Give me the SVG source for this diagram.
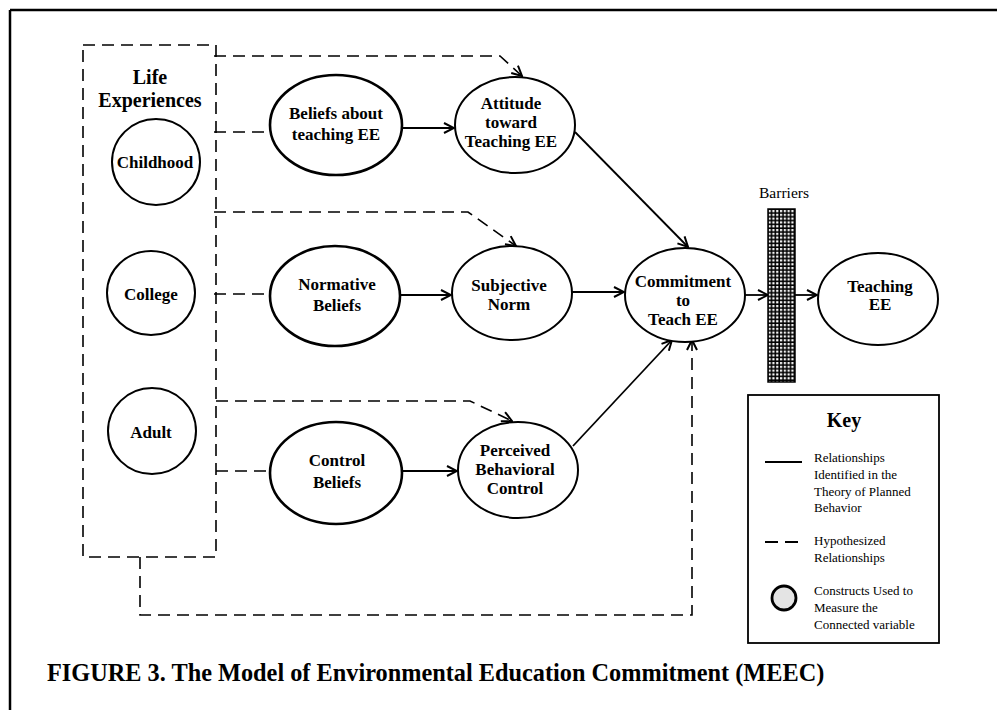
<svg xmlns="http://www.w3.org/2000/svg" width="997" height="710" viewBox="0 0 997 710">
<style>
.t{font-family:"Liberation Serif","Times New Roman",serif;font-weight:bold;font-size:17px;text-anchor:middle;dominant-baseline:central;fill:#000}
.k{font-family:"Liberation Serif","Times New Roman",serif;font-size:13px;fill:#000;dominant-baseline:central}
.n{fill:#fff;stroke:#000;stroke-width:2}
.nb{fill:#fff;stroke:#000;stroke-width:2.6}
.s{fill:none;stroke:#000;stroke-width:1.8}
.d{fill:none;stroke:#000;stroke-width:1.6;stroke-dasharray:12 7}
</style>
<defs>
<marker id="ah" viewBox="0 0 12 12" refX="11" refY="6" markerWidth="12" markerHeight="12" markerUnits="userSpaceOnUse" orient="auto">
<path d="M1,1 L11,6 L1,11" fill="none" stroke="#000" stroke-width="2"/>
</marker>
<pattern id="grid" width="3.8" height="3.8" patternUnits="userSpaceOnUse">
<rect width="3.8" height="3.8" fill="#000"/>
<rect x="1" y="1" width="2.2" height="2.2" fill="#fff"/>
</pattern>
</defs>
<rect width="997" height="710" fill="#fff"/>
<g id="frame">
<line x1="10" y1="10" x2="997" y2="10" stroke="#000" stroke-width="2.5"/>
<line x1="10" y1="10" x2="10" y2="710" stroke="#000" stroke-width="2.5"/>
</g>
<g id="connectors">
<path class="d" d="M214,56 H500 L522,76" marker-end="url(#ah)"/>
<path class="d" d="M214,132 H270"/>
<path class="s" d="M402,128 H454" marker-end="url(#ah)"/>
<path class="d" d="M214,212 H468 L516,246" marker-end="url(#ah)"/>
<path class="d" d="M214,294 H270"/>
<path class="s" d="M400,295 H451" marker-end="url(#ah)"/>
<path class="d" d="M216,401 H470 L512,421" marker-end="url(#ah)"/>
<path class="d" d="M216,471 H270"/>
<path class="s" d="M402,471 H457" marker-end="url(#ah)"/>
<path class="s" d="M575,132 L688,247" marker-end="url(#ah)"/>
<path class="s" d="M572,292 H624" marker-end="url(#ah)"/>
<path class="s" d="M573,446 L672,340" marker-end="url(#ah)"/>
<path class="d" d="M140,557 V615 H692 V340" marker-end="url(#ah)"/>
<path class="s" d="M745,295 H768" marker-end="url(#ah)"/>
<path class="s" d="M795,295 H817" marker-end="url(#ah)"/>
</g>
<g id="life-experiences">
<rect x="83" y="45" width="133" height="512" fill="none" stroke="#000" stroke-width="1.6" stroke-dasharray="12 7"/>
<text class="t" x="150" y="77" style="font-size:20px">Life</text>
<text class="t" x="150" y="100" style="font-size:20px">Experiences</text>
</g>
<g id="childhood">
<ellipse class="n" cx="156" cy="162" rx="44" ry="43"/>
<text class="t" x="155" y="162">Childhood</text>
</g>
<g id="college">
<ellipse class="n" cx="151" cy="293" rx="44" ry="42"/>
<text class="t" x="151" y="294">College</text>
</g>
<g id="adult">
<ellipse class="n" cx="152" cy="431" rx="44" ry="43"/>
<text class="t" x="151" y="432">Adult</text>
</g>
<g id="beliefs-teaching">
<ellipse class="nb" cx="336" cy="125" rx="66" ry="50"/>
<text class="t" x="336" y="113">Beliefs about</text>
<text class="t" x="336" y="134">teaching EE</text>
</g>
<g id="normative-beliefs">
<ellipse class="nb" cx="335" cy="296" rx="65" ry="50"/>
<text class="t" x="337" y="284">Normative</text>
<text class="t" x="337" y="305">Beliefs</text>
</g>
<g id="control-beliefs">
<ellipse class="nb" cx="336" cy="473" rx="66" ry="51"/>
<text class="t" x="337" y="460">Control</text>
<text class="t" x="337" y="482">Beliefs</text>
</g>
<g id="attitude">
<ellipse class="n" cx="515" cy="125" rx="60" ry="48"/>
<text class="t" x="511" y="103">Attitude</text>
<text class="t" x="511" y="122">toward</text>
<text class="t" x="511" y="141">Teaching EE</text>
</g>
<g id="subjective-norm">
<ellipse class="n" cx="512" cy="293" rx="60" ry="47"/>
<text class="t" x="509" y="285">Subjective</text>
<text class="t" x="509" y="304">Norm</text>
</g>
<g id="perceived-control">
<ellipse class="n" cx="518" cy="470" rx="60" ry="48"/>
<text class="t" x="515" y="450">Perceived</text>
<text class="t" x="515" y="469">Behavioral</text>
<text class="t" x="515" y="488">Control</text>
</g>
<g id="commitment">
<ellipse class="n" cx="685" cy="295" rx="60" ry="47"/>
<text class="t" x="683" y="281">Commitment</text>
<text class="t" x="683" y="300">to</text>
<text class="t" x="683" y="319">Teach EE</text>
</g>
<g id="barriers">
<rect x="768" y="209" width="27" height="173" fill="url(#grid)" stroke="#000" stroke-width="1.5"/>
<text class="t" x="784" y="192" style="font-size:15.5px;font-weight:normal">Barriers</text>
</g>
<g id="teaching-ee">
<ellipse class="n" cx="878" cy="299" rx="60" ry="46"/>
<text class="t" x="880" y="286">Teaching</text>
<text class="t" x="880" y="304">EE</text>
</g>
<g id="key">
<rect x="748" y="395" width="191" height="248" fill="#fff" stroke="#000" stroke-width="1.8"/>
<text class="t" x="844" y="420" style="font-size:20px">Key</text>
<line x1="765" y1="462" x2="802" y2="462" stroke="#000" stroke-width="2"/>
<text class="k" x="814" y="457">Relationships</text>
<text class="k" x="814" y="474">Identified in the</text>
<text class="k" x="814" y="491">Theory of Planned</text>
<text class="k" x="814" y="507">Behavior</text>
<line x1="765" y1="542" x2="802" y2="542" stroke="#000" stroke-width="1.8" stroke-dasharray="13 7"/>
<text class="k" x="814" y="540">Hypothesized</text>
<text class="k" x="814" y="557">Relationships</text>
<circle cx="784" cy="598" r="12" fill="#e4e4e4" stroke="#000" stroke-width="2.8"/>
<text class="k" x="814" y="590">Constructs Used to</text>
<text class="k" x="814" y="607">Measure the</text>
<text class="k" x="814" y="624">Connected variable</text>
</g>
<text x="47" y="681" font-family="Liberation Serif, Times New Roman, serif" font-weight="bold" font-size="24.3" fill="#000">FIGURE 3. The Model of Environmental Education Commitment (MEEC)</text>
</svg>
